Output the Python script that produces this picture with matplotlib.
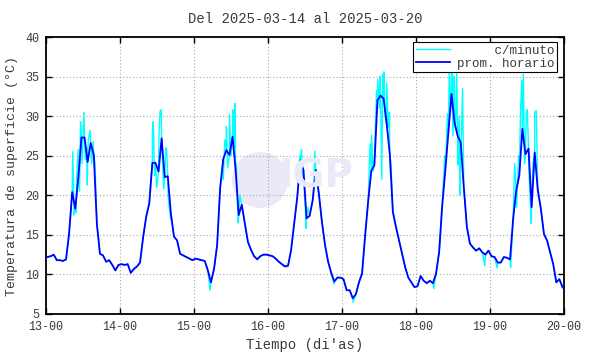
import numpy as np
import matplotlib
matplotlib.use("Agg")
import matplotlib.pyplot as plt
from matplotlib.patches import Ellipse

plt.rcParams['font.family'] = ['Liberation Mono', 'DejaVu Sans Mono']

# hourly means (prom. horario), one list per day, values at hh:30
inicio = [12.2]   # 12-23:30
dia13 = [12.2, 12.3, 12.5, 11.8, 11.8, 11.7, 11.9, 15.2, 20.4, 18.3, 22.3, 27.3,
         27.3, 24.2, 26.6, 25.1, 16.4, 12.6, 12.4, 11.6, 11.8, 11.2, 10.5, 11.2]
dia14 = [11.3, 11.2, 11.3, 10.2, 10.7, 11.0, 11.5, 14.7, 17.3, 19.0, 24.1, 24.1,
         23.0, 27.2, 22.3, 22.4, 17.7, 14.8, 14.3, 12.6, 12.4, 12.2, 12.0, 11.8]
dia15 = [12.0, 11.9, 11.8, 11.7, 10.5, 9.0, 10.7, 13.7, 21.0, 24.6, 25.7, 25.1,
         27.4, 23.2, 17.5, 18.8, 16.4, 14.1, 13.1, 12.3, 11.9, 12.3, 12.5, 12.5]
dia16 = [12.4, 12.3, 12.0, 11.6, 11.3, 11.0, 11.1, 13.1, 16.4, 19.8, 24.4, 23.2,
         17.1, 17.4, 19.4, 23.2, 20.2, 16.6, 13.7, 11.6, 10.2, 9.1, 9.6, 9.6]
dia17 = [9.4, 8.0, 8.0, 7.0, 7.5, 9.0, 10.1, 14.9, 19.3, 23.1, 23.8, 32.0,
         32.6, 32.2, 29.0, 25.2, 17.9, 16.0, 14.3, 12.6, 10.9, 9.6, 9.0, 8.4]
dia18 = [8.5, 9.8, 9.2, 8.9, 9.2, 8.9, 10.1, 12.8, 18.7, 23.1, 28.0, 32.8,
         29.2, 27.5, 26.7, 21.0, 16.0, 13.9, 13.4, 13.0, 13.3, 12.8, 12.5, 13.0]
dia19 = [12.3, 12.2, 11.5, 11.5, 12.2, 12.1, 11.9, 17.0, 20.6, 22.5, 28.4, 25.2,
         25.9, 18.5, 25.4, 20.6, 18.3, 15.1, 14.3, 12.8, 11.3, 9.0, 9.4, 8.4]
fin = [8.0]       # 20-00:30

# per-minute excursions (hours since 13-00, degC)
min_t = [8.7, 9.1, 9.7, 10.0, 10.4, 10.9, 11.2, 11.7, 12.3, 12.8, 13.2, 13.4, 13.7, 14.3, 14.8, 15.3, 15.9,
         33.8, 34.5, 34.8, 35.2, 35.9, 36.6, 37.0, 37.4, 37.8, 38.2, 38.8, 39.1, 39.6, 40.4,
         53.2, 57.5, 58.0, 58.5, 58.9, 59.5, 60.0, 60.6, 61.0, 61.3, 61.7, 62.3, 62.9,
         82.3, 82.9, 83.3, 83.9, 84.4, 84.9, 86.8, 87.2, 87.7, 93.4,
         99.6, 104.7, 105.1, 105.6, 106.1, 106.6, 107.2, 107.6, 108.1, 108.3, 108.9, 109.2, 109.6,
         110.0, 110.5, 111.0, 111.4, 111.9, 112.4,
         125.8, 129.3, 130.2, 130.8, 131.2, 131.6, 132.0, 132.4, 132.8, 133.2, 133.6, 134.0, 134.3,
         134.7, 135.1, 135.6, 142.3,
         146.3, 150.7, 152.0, 152.6, 153.3, 153.9, 154.3, 154.8, 155.2, 155.8, 156.1, 156.6, 157.4,
         157.9, 158.5, 159.0, 159.5]
min_v = [25.5, 17.5, 17.8, 22.5, 25.8, 20.5, 29.3, 24.0, 30.5, 24.5, 26.0, 21.3, 27.0, 28.2, 24.0, 26.8, 24.0,
         21.0, 28.0, 29.3, 22.5, 21.0, 27.0, 30.6, 30.8, 24.0, 20.8, 26.0, 25.9, 19.8, 17.0,
         8.0, 22.0, 27.0, 28.7, 23.5, 30.2, 25.0, 30.8, 26.0, 31.6, 24.0, 16.5, 20.0,
         25.0, 25.8, 22.0, 20.0, 15.8, 18.5, 21.0, 25.6, 21.5, 8.8,
         6.5, 22.0, 26.5, 27.6, 23.0, 26.0, 33.2, 34.6, 31.0, 35.0, 22.0, 35.3, 35.6,
         30.0, 34.2, 28.6, 30.5, 24.0, 18.9,
         8.2, 25.0, 30.3, 36.2, 31.0, 36.0, 27.5, 35.0, 28.5, 35.6, 23.8, 30.0, 20.0,
         27.0, 33.5, 20.8, 11.1,
         10.8, 10.9, 24.0, 18.5, 25.0, 30.7, 34.5, 35.3, 24.0, 30.7, 30.8, 23.1, 16.4,
         24.0, 30.5, 30.7, 21.0]

dias = ['13-00', '14-00', '15-00', '16-00', '17-00', '18-00', '19-00', '20-00']

prom = np.array(inicio + dia13 + dia14 + dia15 + dia16 + dia17 + dia18 + dia19 + fin)
t_prom = np.arange(len(prom)) - 0.5

# minute series = hourly values plus the excursions, in time order
t_min = np.concatenate([t_prom, min_t])
v_min = np.concatenate([prom, min_v])
orden = np.argsort(t_min, kind='stable')
t_min, v_min = t_min[orden], v_min[orden]

fig = plt.figure(figsize=(5.9, 3.54), dpi=100)
ax = fig.add_axes([46/590, 40/354, 518/590, 277/354])

# faint IGP watermark
ax.add_patch(Ellipse((260/590, 1 - 180/354), 56/590, 56/354, transform=fig.transFigure,
                     facecolor='#e9e9f7', edgecolor='none', zorder=0.5))
fig.text(316/590, 1 - 176/354, 'IGP', fontsize=28, fontweight='bold', family='DejaVu Sans',
         color='#e9e9f7', ha='center', va='center', zorder=0.5)

ax.plot(t_min, v_min, color='#00ffff', lw=1.0, label='c/minuto'.rjust(13), zorder=2)
ax.plot(t_prom, prom, color='#0000ff', lw=1.3, label='prom. horario', zorder=3)

ax.set_xlim(0, 168)
ax.set_ylim(5, 40)
ax.set_xticks(np.arange(len(dias)) * 24)
ax.set_xticklabels(dias)
ax.set_yticks(np.arange(5, 41, 5))
ax.grid(True, color='#a8a8a8', lw=0.8, linestyle=(0, (1, 2)))
ax.tick_params(direction='in', length=4, width=1, top=True, right=True,
               labelsize=8.5, labelcolor='#3a3a3a', pad=5)
for s in ax.spines.values():
    s.set_linewidth(1.3)

ax.set_title('Del 2025-03-14 al 2025-03-20', fontsize=10, color='#3a3a3a', pad=10)
ax.set_xlabel("Tiempo (di'as)", fontsize=10, color='#3a3a3a', labelpad=4)
ax.set_ylabel('Temperatura de superficie (°C)', fontsize=9.5, color='#3a3a3a', labelpad=5)

leg = ax.legend(loc='upper right', bbox_to_anchor=(1 - 7/518, 1 - 5/277), fontsize=9,
                frameon=True, fancybox=False, framealpha=1, edgecolor='black',
                handlelength=2.7, handletextpad=0.6, labelspacing=0.1, borderpad=0.2,
                borderaxespad=0)
leg.get_frame().set_linewidth(0.8)
for txt in leg.get_texts():
    txt.set_color('#3a3a3a')

fig.savefig('out.png', dpi=100)
